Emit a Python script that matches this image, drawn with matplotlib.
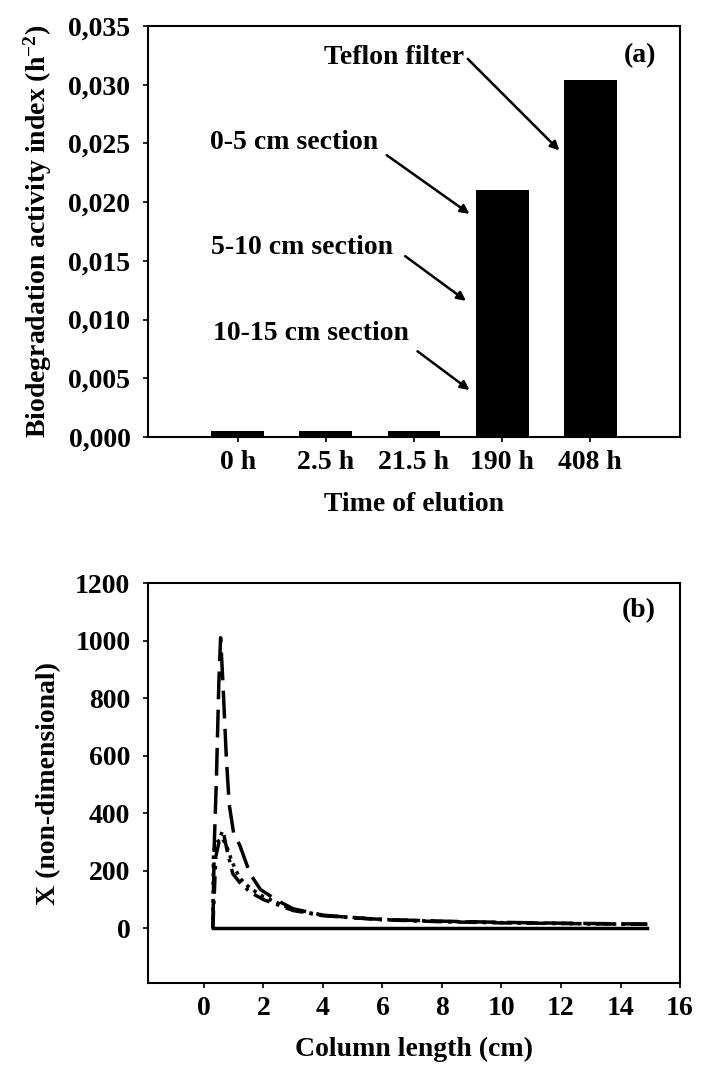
import matplotlib
matplotlib.use('Agg')
import matplotlib.pyplot as plt
import numpy as np

plt.rcParams['font.family'] = ['Liberation Serif', 'DejaVu Serif']
plt.rcParams['font.weight'] = 'bold'
plt.rcParams['axes.labelweight'] = 'bold'
plt.rcParams['mathtext.fontset'] = 'custom'
plt.rcParams['mathtext.rm'] = 'Liberation Serif:bold'
plt.rcParams['mathtext.it'] = 'Liberation Serif:bold'

# (a) bar data
times = ['0 h', '2.5 h', '21.5 h', '190 h', '408 h']
activity = [0.0005, 0.0005, 0.0005, 0.0210, 0.0304]

# (b) profiles along the column
x_a = [0.3, 0.35, 0.42, 0.5, 0.56, 0.64, 0.75, 0.85, 1.0, 1.2, 1.55, 1.9, 2.5, 3.0, 4.0, 5.0, 6.0, 8.0, 10.0, 12.0, 14.9]
y_a = [0, 300, 520, 850, 1010, 850, 600, 430, 330, 290, 190, 135, 95, 68, 46, 37, 31, 25, 21, 18, 15]

x_b = [0.3, 0.4, 0.55, 0.64, 0.8, 0.97, 1.2, 1.55, 2.0, 3.0, 4.0, 6.0, 8.0, 10.0, 12.0, 14.9]
y_b = [0, 250, 320, 341, 260, 190, 160, 126, 100, 62, 44, 30, 23, 19, 17, 14]

x_c = [0.3, 0.32, 0.45, 0.6, 0.75, 0.95, 1.2, 1.55, 2.0, 3.0, 4.0, 6.0, 8.0, 10.0, 12.0, 14.9]
y_c = [0, 270, 300, 315, 290, 230, 175, 140, 110, 65, 45, 31, 24, 20, 17, 14]

x_zero = [0.3, 14.9]
y_zero = [0, 0]

fig = plt.figure(figsize=(7.03, 10.86), dpi=100)

# ---- panel (a)
ax1 = fig.add_axes([0.2105, 0.5976, 0.7568, 0.3785])
pos = np.arange(len(times))
ax1.bar(pos, activity, width=0.6, color='black')
ax1.set_xlim(-1.02, 5.02)
ax1.set_ylim(0, 0.035)
ax1.set_xticks(pos)
ax1.set_xticklabels(times)
yt = np.arange(0, 0.0351, 0.005)
ax1.set_yticks(yt)
ax1.set_yticklabels([f'{v:.3f}'.replace('.', ',') for v in yt])
ax1.tick_params(labelsize=20, length=3.6, width=1.2)
ax1.tick_params(axis='y', pad=9)
ax1.tick_params(axis='x', pad=6)
ax1.set_xlabel('Time of elution', fontsize=20, labelpad=12)
ax1.set_ylabel('Biodegradation activity index (h$^{-2}$)', fontsize=20, labelpad=10)
ax1.text(4.75, 0.0325, '(a)', ha='right', va='center', fontsize=20)

arrow = dict(arrowstyle='-|>', color='black', lw=1.8, mutation_scale=13, shrinkA=0, shrinkB=0)
labels_a = [('Teflon filter', 1.77, 0.03235, (2.61, 0.0322), (3.65, 0.0244)),
            ('0-5 cm section', 0.64, 0.0251, (1.69, 0.0240), (2.63, 0.0190)),
            ('5-10 cm section', 0.73, 0.0161, (1.90, 0.0154), (2.59, 0.0116)),
            ('10-15 cm section', 0.83, 0.0088, (2.04, 0.0073), (2.63, 0.0040))]
for txt, tx, ty, start, end in labels_a:
    ax1.text(tx, ty, txt, fontsize=20, ha='center', va='center')
    ax1.annotate('', xy=end, xytext=start, arrowprops=arrow)
for s in ax1.spines.values():
    s.set_linewidth(1.5)

# ---- panel (b)
ax2 = fig.add_axes([0.2105, 0.0948, 0.7568, 0.3683])
ax2.plot(x_zero, y_zero, color='black', lw=2.5)
ax2.plot(x_a, y_a, color='black', lw=2.5, linestyle=(0, (8, 3)))
ax2.plot(x_b, y_b, color='black', lw=2.5, linestyle=(0, (5, 2, 1, 2)))
ax2.plot(x_c, y_c, color='black', lw=2.5, linestyle=(0, (1, 1.5)))
ax2.set_xlim(-1.88, 16)
ax2.set_ylim(-190, 1200)
ax2.set_xticks(np.arange(0, 17, 2))
ax2.set_yticks(np.arange(0, 1201, 200))
ax2.tick_params(labelsize=20, length=3.6, width=1.2)
ax2.tick_params(axis='y', pad=9)
ax2.tick_params(axis='x', pad=6)
ax2.set_xlabel('Column length (cm)', fontsize=20, labelpad=11)
ax2.set_ylabel('X (non-dimensional)', fontsize=20, labelpad=10)
ax2.text(0.955, 0.93, '(b)', transform=ax2.transAxes, ha='right', va='center', fontsize=20)
for s in ax2.spines.values():
    s.set_linewidth(1.5)

fig.savefig('out.png', dpi=100, facecolor='white')
